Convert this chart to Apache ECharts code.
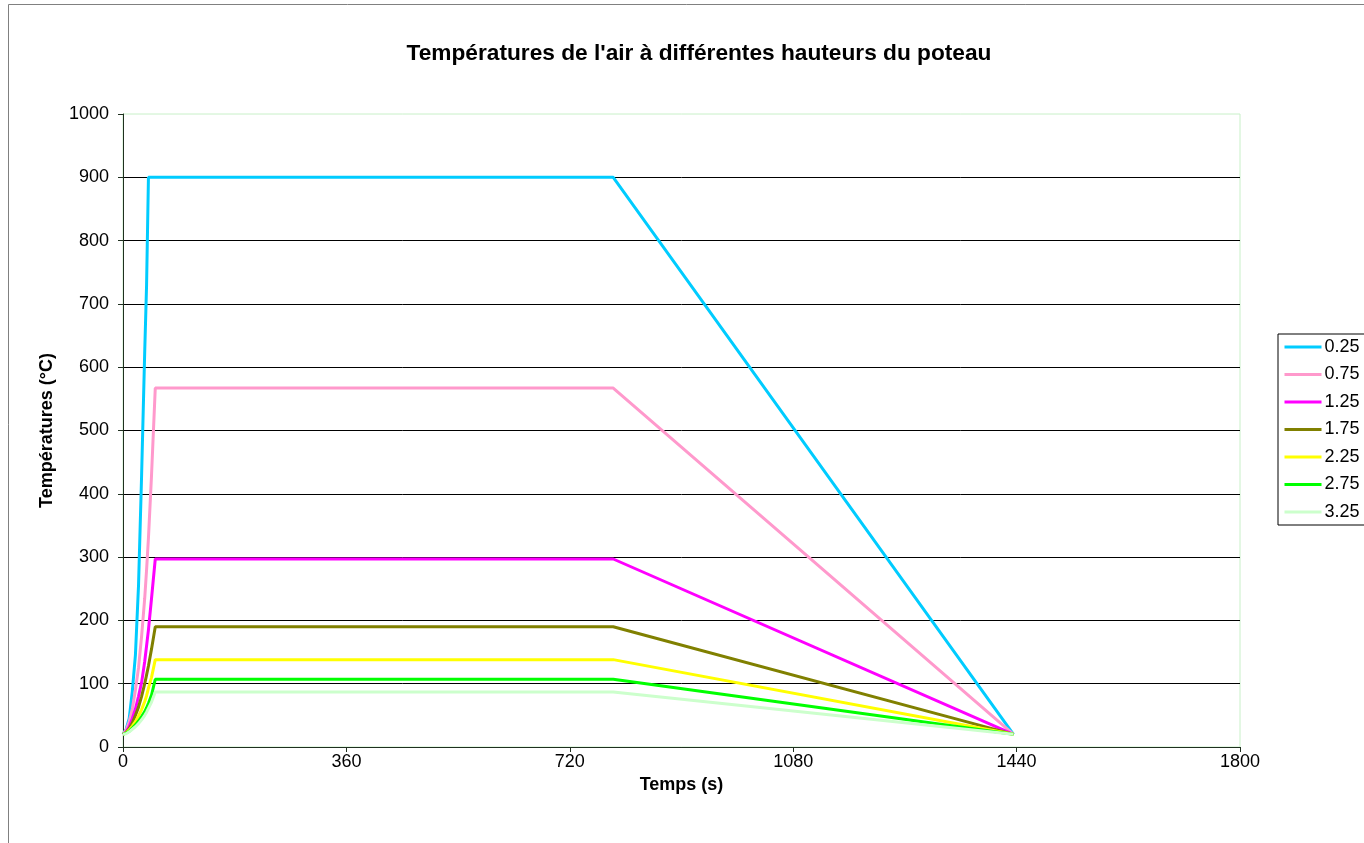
<!DOCTYPE html>
<html>
<head>
<meta charset="utf-8">
<script src="https://cdn.jsdelivr.net/npm/echarts@6/dist/echarts.min.js"></script>
<style>
  html, body { margin: 0; padding: 0; background: #fff; }
  #main { width: 1364px; height: 843px; }
</style>
</head>
<body>
<div id="main"></div>
<script>
// temps (s) communs à toutes les courbes
const times = [0, 5, 10, 15, 20, 25, 30, 35, 38, 41, 46, 52, 790, 1435];

// températures (°C) par hauteur
const names = ['0.25', '0.75', '1.25', '1.75', '2.25', '2.75', '3.25'];
const t025 = [20, 28, 45, 88, 145, 255, 430, 625, 730, 900, 900, 900, 900, 20];
const t075 = [20, 27, 40, 60, 90, 125, 175, 235, 280, 330, 430, 567, 567, 20];
const t125 = [20, 24, 32, 45, 60, 80, 102, 135, 160, 185, 235, 297, 297, 20];
const t175 = [20, 23, 29, 38, 50, 63, 80, 100, 114, 128, 155, 190, 190, 20];
const t225 = [20, 22, 27, 33, 40, 49, 59, 72, 81, 93, 110, 138, 138, 20];
const t275 = [20, 22, 25, 30, 35, 41, 48, 56, 62, 69, 82, 107, 107, 20];
const t325 = [20, 21, 24, 28, 32, 37, 43, 50, 55, 61, 71, 87, 87, 20];
const values = [t025, t075, t125, t175, t225, t275, t325];
const colors = ['#00CCFF', '#FF99CC', '#FF00FF', '#808000', '#FFFF00', '#00FF00', '#CCFFCC'];

const font = 'Liberation Sans';

let series = names.map(function (n, i) {
    return {
        name: n,
        type: 'line',
        symbol: 'none',
        data: times.map(function (t, k) { return [t, values[i][k]]; }),
        lineStyle: { color: colors[i], width: 3 },
        itemStyle: { color: colors[i] },
        animation: false
    };
});

let option = {
    backgroundColor: '#ffffff',
    animation: false,
    textStyle: { fontFamily: font },
    title: {
        text: "Températures de l'air à différentes hauteurs du poteau",
        left: 694,
        top: 37,
        textAlign: 'center',
        textStyle: { fontFamily: font, fontSize: 22.7, fontWeight: 'bold', color: '#000' }
    },
    graphic: [
        {
            type: 'rect',
            shape: { x: 8.5, y: 4.5, width: 1400, height: 900 },
            style: { fill: 'none', stroke: '#808080', lineWidth: 1 },
            z: -1
        }
    ],
    legend: {
        orient: 'vertical',
        left: 1278,
        top: 334,
        data: names,
        itemWidth: 37,
        itemHeight: 18,
        itemGap: 9.5,
        padding: [4, 60, 4, 5],
        borderColor: '#000',
        borderWidth: 1,
        backgroundColor: '#fff',
        itemStyle: { opacity: 0 },
        lineStyle: { width: 3 },
        textStyle: { fontFamily: font, fontSize: 18, color: '#000', padding: [0, 0, 0, -2] }
    },
    grid: {
        left: 123,
        top: 114,
        width: 1117,
        height: 633,
        show: true,
        borderColor: '#c8f0c8',
        borderWidth: 1,
        backgroundColor: '#ffffff'
    },
    xAxis: {
        type: 'value',
        min: 0,
        max: 1800,
        interval: 360,
        name: 'Temps (s)',
        nameLocation: 'middle',
        nameGap: 21,
        nameTextStyle: { fontFamily: font, fontSize: 18, fontWeight: 'bold', color: '#000' },
        axisLine: { show: true, lineStyle: { color: '#203020', width: 1 } },
        axisTick: { show: true, inside: false, length: 5, lineStyle: { color: '#203020' } },
        axisLabel: {
            fontFamily: font, fontSize: 18, color: '#000', margin: 6,
            formatter: function (v) { return String(v); }
        },
        splitLine: { show: false }
    },
    yAxis: {
        type: 'value',
        min: 0,
        max: 1000,
        interval: 100,
        name: 'Températures (°C)',
        nameLocation: 'middle',
        nameGap: 67,
        nameRotate: 90,
        nameTextStyle: { fontFamily: font, fontSize: 18, fontWeight: 'bold', color: '#000' },
        axisLine: { show: true, lineStyle: { color: '#203020', width: 1 } },
        axisTick: { show: true, inside: false, length: 5, lineStyle: { color: '#203020' } },
        axisLabel: {
            fontFamily: font, fontSize: 18, color: '#000', margin: 14,
            formatter: function (v) { return String(v); }
        },
        splitLine: { show: true, showMaxLine: false, lineStyle: { color: '#000', width: 1 } }
    },
    series: series
};

let myChart = echarts.init(document.getElementById('main'), null, { renderer: 'canvas' });
myChart.setOption(option);
</script>
</body>
</html>
